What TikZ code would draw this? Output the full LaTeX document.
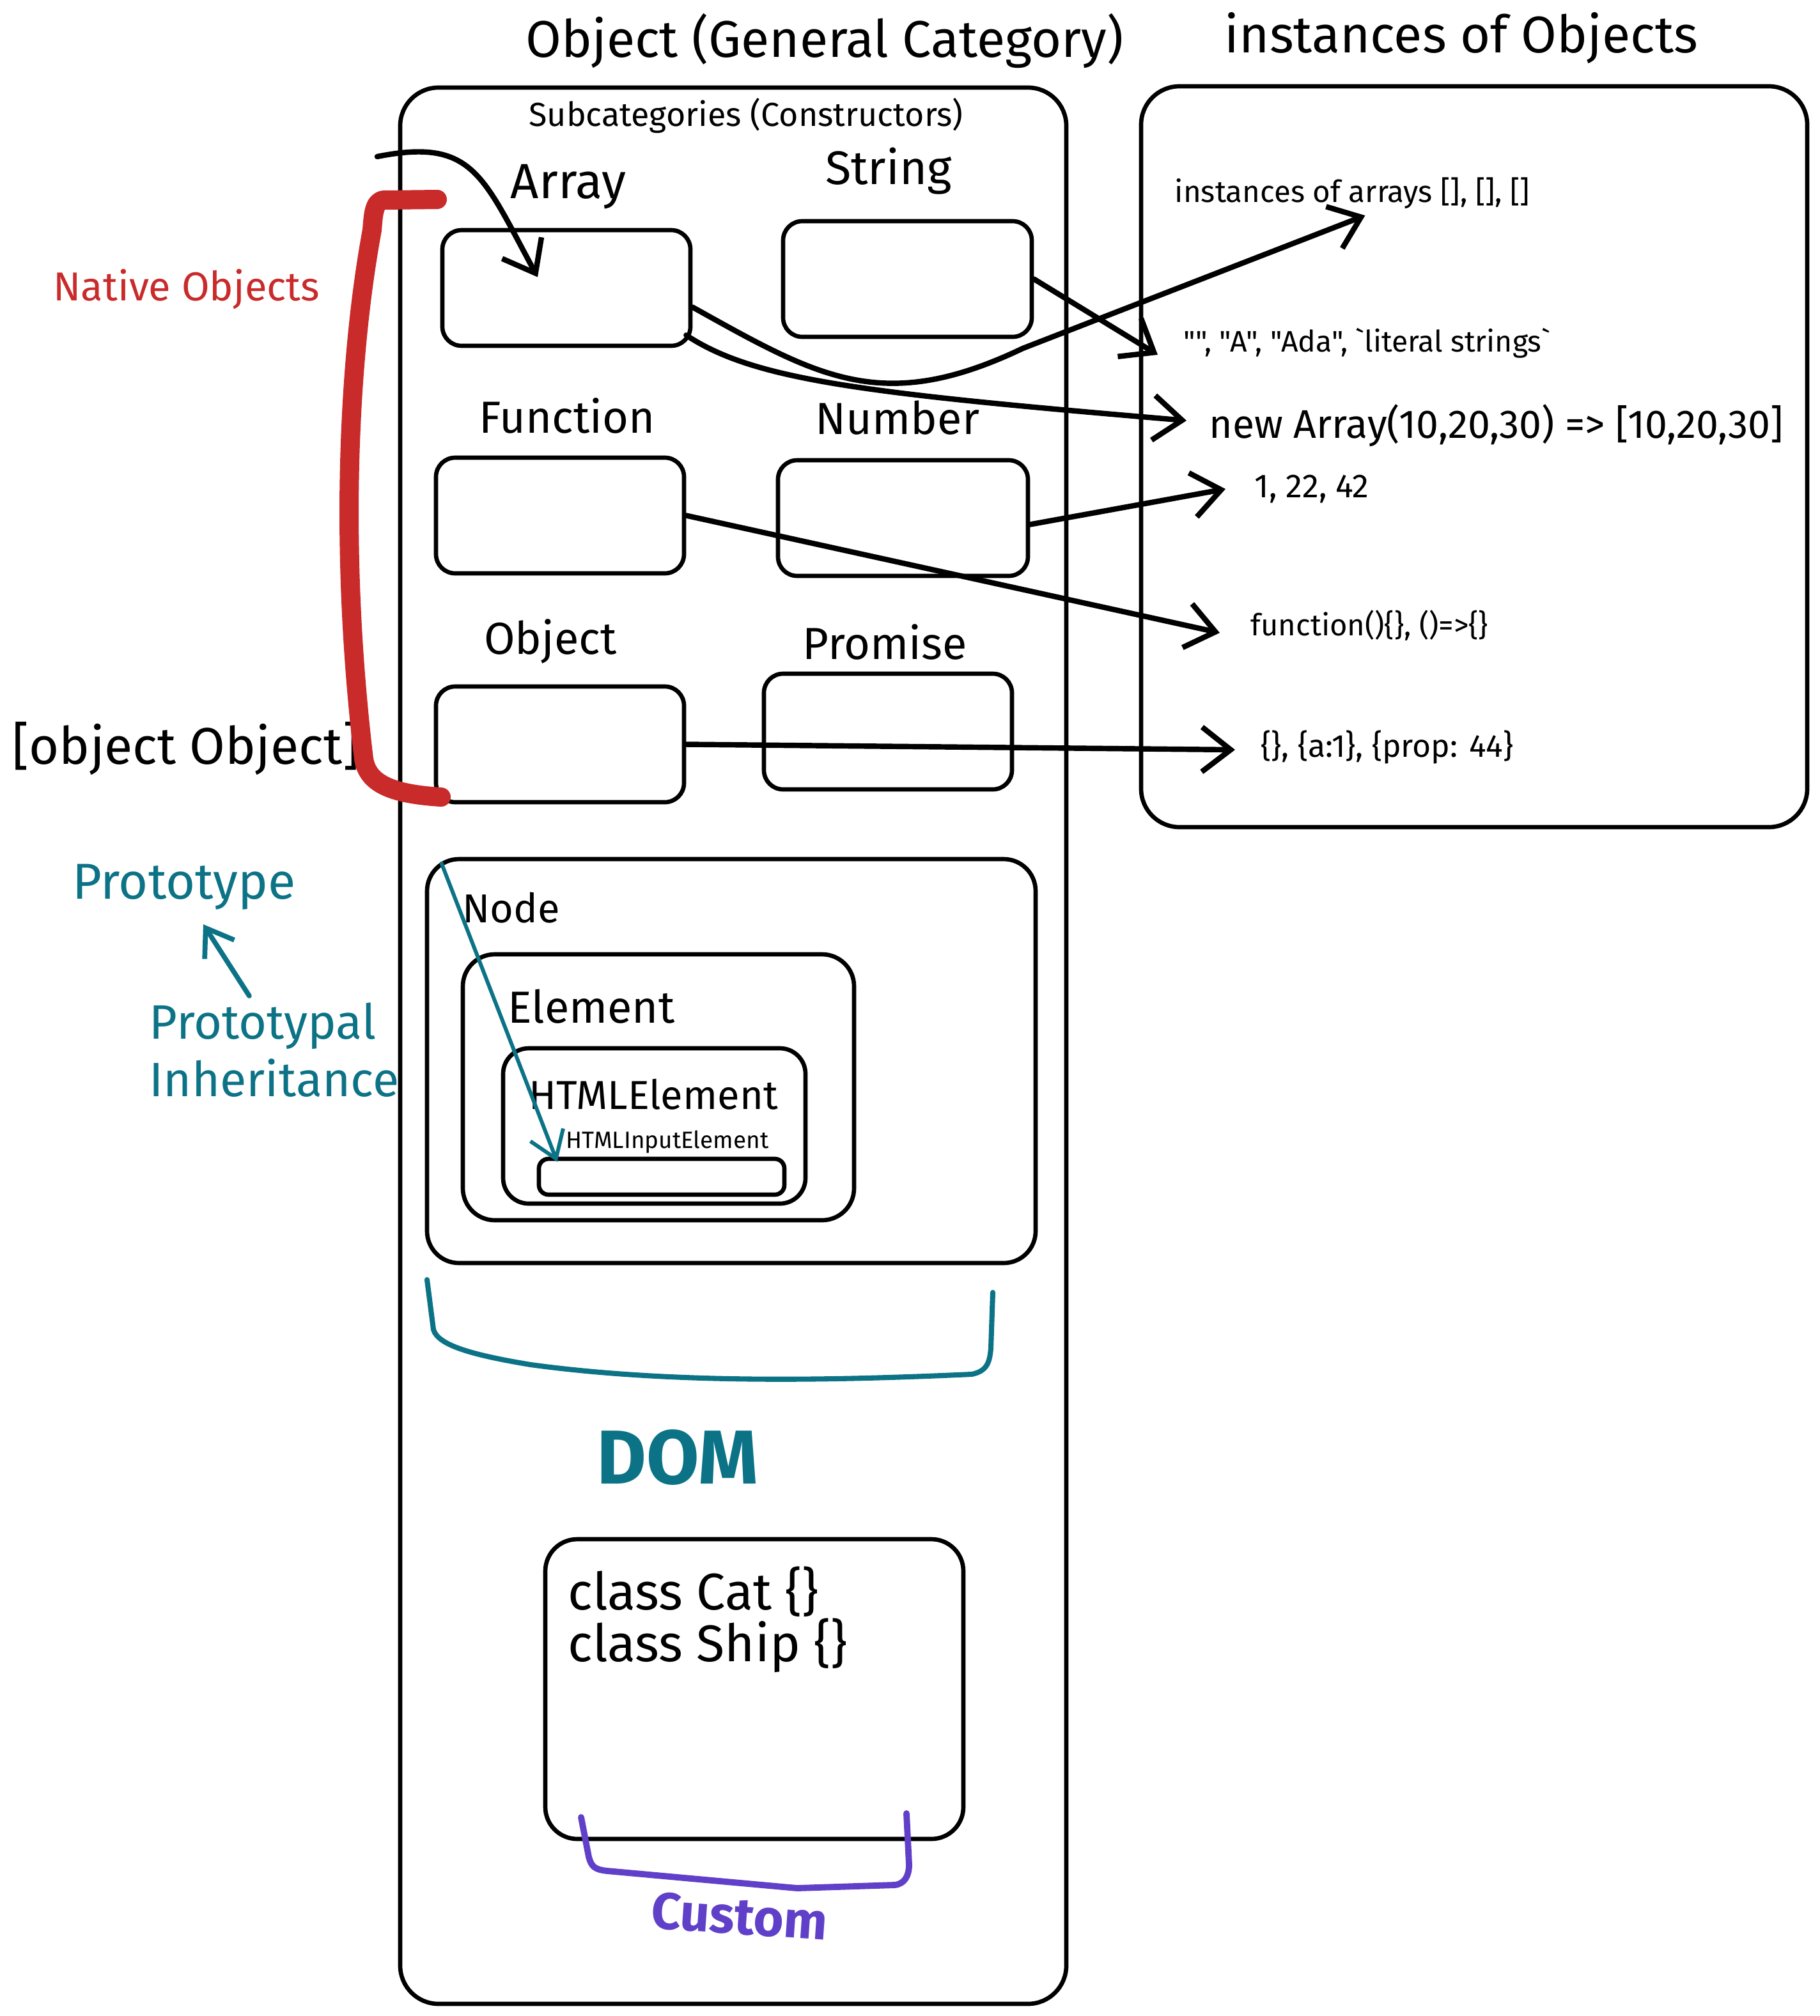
\documentclass[tikz,border=0pt]{standalone}
\usepackage{fontspec}
\setmainfont{Fira Sans}
\newfontfamily\codefont{Fira Sans}[Ligatures=TeXOff]
\usetikzlibrary{arrows.meta,positioning}
\definecolor{MarkRed}{HTML}{C92A2A}
\definecolor{DomTeal}{HTML}{0C7386}
\definecolor{CustomViolet}{HTML}{6040C8}

\newcommand{\fs}[1]{\fontsize{#1}{#1}\selectfont}

\begin{document}
\begin{tikzpicture}[
  x=1cm, y=-1cm,
  box/.style={draw, line width=1.9pt, rounded corners=3mm, inner sep=0pt},
  lbl/.style={font=\fs{20}, inner sep=0pt},
  inst/.style={anchor=west, inner sep=0pt},
  arr/.style={-{Straight Barb[length=4.5mm,width=7mm]}, line width=2.4pt, line cap=round, line join=round},
  tealarr/.style={-{Straight Barb[length=4mm,width=5.5mm]}, DomTeal, line width=1.7pt, line cap=round, line join=round}
]
\useasboundingbox (0,0) rectangle (28.47,31.54);

% titles
\node[font=\fs{23}] (gentitle) at (12.90,0.64) {Object (General Category)};
\node[font=\fs{23}] (insttitle) at (22.86,0.60) {instances of Objects};

% the two big frames
\node[box, rounded corners=6mm, minimum width=10.42cm, minimum height=29.98cm] (objbox) at (11.47,16.36) {};
\node[box, rounded corners=6mm, minimum width=10.42cm, minimum height=11.59cm] (instbox) at (23.06,7.145) {};
\node[font=\fs{14.8}] (subcat) at (11.67,1.81) {Subcategories (Constructors)};

% constructors
\node[box, minimum width=3.88cm, minimum height=1.81cm] (arraybox) at (8.86,4.505) {};
\node[box, minimum width=3.89cm, minimum height=1.81cm] (stringbox) at (14.195,4.365) {};
\node[box, minimum width=3.88cm, minimum height=1.81cm] (funcbox) at (8.76,8.065) {};
\node[box, minimum width=3.91cm, minimum height=1.81cm] (numbox) at (14.125,8.105) {};
\node[box, minimum width=3.88cm, minimum height=1.81cm] (objectbox) at (8.76,11.645) {};
\node[box, minimum width=3.88cm, minimum height=1.81cm] (promisebox) at (13.89,11.445) {};
\node[lbl, font=\fs{22}] (arraylbl) at (8.89,2.92) {Array};
\node[lbl, font=\fs{21}] (stringlbl) at (13.90,2.68) {String};
\node[lbl] (funclbl) at (8.87,6.50) {Function};
\node[lbl] (numlbl) at (14.04,6.54) {Number};
\node[lbl] (objectlbl) at (8.61,10.04) {Object};
\node[lbl] (promiselbl) at (13.84,10.04) {Promise};

% DOM nesting
\node[box, rounded corners=5mm, minimum width=9.52cm, minimum height=6.32cm] (nodebox) at (11.44,16.60) {};
\node[box, rounded corners=5mm, minimum width=6.12cm, minimum height=4.16cm] (elembox) at (10.30,17.01) {};
\node[box, rounded corners=4mm, minimum width=4.73cm, minimum height=2.43cm] (htmlbox) at (10.235,17.615) {};
\node[box, rounded corners=1.5mm, minimum width=3.84cm, minimum height=0.56cm] (inputbox) at (10.35,18.41) {};
\node[lbl, font=\fs{18}] (nodelbl) at (8.00,14.20) {Node};
\node[lbl, font=\fs{20}] (elemlbl) at (9.25,15.75) {Element};
\node[lbl, font=\fs{18}] (htmllbl) at (10.22,17.12) {HTMLElement};
\node[lbl, font=\fs{10.5}] (inputlbl) at (10.44,17.87) {HTMLInputElement};

% custom classes
\node[box, rounded corners=5mm, minimum width=6.54cm, minimum height=4.69cm] (classbox) at (11.80,26.425) {};
\node[anchor=north west, align=left, inner sep=0pt, font=\fontsize{23}{23}\selectfont] (classes) at (8.88,24.50) {class Cat \{\}\\class Ship \{\}};

% instances
\node[inst, font=\fs{13.5}] (arrinst) at (18.37,3.02) {instances of arrays [], [], []};
\node[inst, font=\codefont\fs{13.2}] (strinst) at (18.51,5.37) {"", "A", "Ada", `literal strings`};
\node[inst, font=\fs{17.8}] (newarr) at (18.91,6.66) {new Array(10,20,30) => [10,20,30]};
\node[inst, font=\fs{14.8}] (numinst) at (19.62,7.65) {1, 22, 42};
\node[inst, font=\fs{13.4}] (funcinst) at (19.56,9.78) {function()\{\}, ()=>\{\}};
\node[inst, font=\fs{14.2}] (objinst) at (19.72,11.69) {\{\}, \{a:1\}, \{prop: 44\}};

% side notes
\node[font=\fs{18}, text=MarkRed] (native) at (2.92,4.53) {Native Objects};
\node[font=\fs{23}] (objstr) at (2.91,11.71) {[object Object]};
\node[font=\fs{22.5}, text=DomTeal] (proto) at (2.88,13.88) {Prototype};
\node[anchor=north west, align=left, inner sep=0pt, font=\fontsize{21.5}{25.5}\selectfont, text=DomTeal] (protoinh) at (2.33,15.68) {Prototypal\\Inheritance};
\node[font=\bfseries\fs{34}, text=DomTeal] (dom) at (10.60,22.80) {DOM};
\node[font=\bfseries\fs{23}, text=CustomViolet, rotate=-4] (custom) at (11.57,29.98) {Custom};

% connectors
\coordinate (inarr) at (5.90,2.45);
\draw[arr] (inarr) .. controls (7.4,2.15) and (7.55,2.75) .. ([xshift=-4.5mm,yshift=1.7mm]arraybox.center);
\draw[arr] ([yshift=-3mm]arraybox.east) .. controls (12.8,5.9) and (13.8,6.5) .. (16.0,5.45) -- ([xshift=2mm,yshift=-1mm]arrinst.south);
\draw[arr] ([xshift=-1mm,yshift=2mm]arraybox.south east) .. controls (11.8,5.95) and (13.5,6.15) .. ([xshift=-3.5mm,yshift=0.8mm]newarr.west);
\draw[arr] (stringbox.east) -- ([xshift=-4mm,yshift=-1.8mm]strinst.west);
\draw[arr] ([yshift=-1mm]numbox.east) -- ([xshift=-4.5mm]numinst.west);
\draw[arr] (funcbox.east) -- ([xshift=-4.8mm,yshift=-1.2mm]funcinst.west);
\draw[arr] (objectbox.east) -- ([xshift=-4mm,yshift=-0.4mm]objinst.west);
\draw[tealarr] ([xshift=2.6mm,yshift=-1mm]nodebox.north west) -- ([xshift=3.2mm,yshift=-0.8mm]inputbox.north west);
\draw[tealarr, line width=2.2pt] ([xshift=-3.9mm,yshift=1mm]protoinh.north) -- ([xshift=3mm,yshift=-1mm]proto.south);

% brackets
\draw[MarkRed, line width=3mm, line cap=round, line join=round]
  (6.84,3.12) -- (6.0,3.13) .. controls (5.85,3.15) and (5.84,3.35) .. (5.82,3.6)
  .. controls (5.45,5.6) and (5.3,8.6) .. (5.69,11.87) .. controls (5.75,12.25) and (6.1,12.42) .. (6.90,12.47);
\draw[DomTeal, line width=2.3pt, line cap=round, line join=round]
  (6.68,20.02) -- (6.78,20.80) .. controls (6.85,21.05) and (7.4,21.2) .. (8.3,21.35)
  .. controls (10.5,21.65) and (13,21.6) .. (15.2,21.5) .. controls (15.45,21.45) and (15.48,21.3) .. (15.50,21.1) -- (15.53,20.22);
\draw[CustomViolet, line width=2.8pt, line cap=round, line join=round]
  (9.09,28.43) -- (9.21,29.05) .. controls (9.25,29.2) and (9.3,29.25) .. (9.5,29.27)
  -- (12.47,29.54) -- (14.0,29.49) .. controls (14.15,29.47) and (14.22,29.35) .. (14.22,29.17) -- (14.18,28.37);
\end{tikzpicture}
\end{document}
